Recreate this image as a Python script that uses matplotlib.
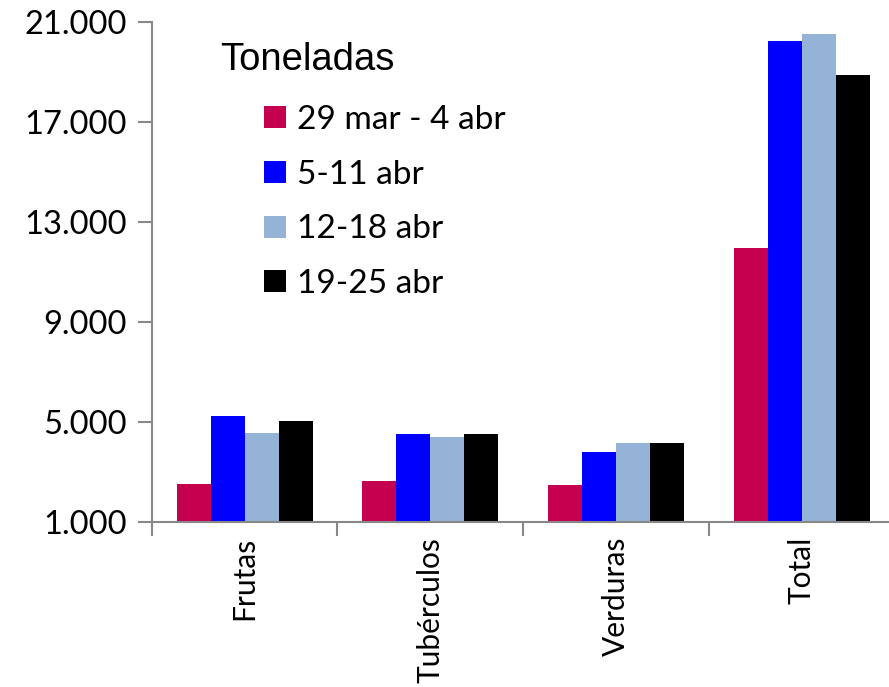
import matplotlib
matplotlib.use("Agg")
import matplotlib.pyplot as plt
import numpy as np
from matplotlib.ticker import FuncFormatter
from matplotlib.patches import Patch

categories = ["Frutas", "Tubérculos", "Verduras", "Total"]
series_names = ["29 mar - 4 abr", "5-11 abr", "12-18 abr", "19-25 abr"]
s1 = [2500, 2630, 2480, 11950]
s2 = [5230, 4510, 3800, 20230]
s3 = [4540, 4380, 4160, 20520]
s4 = [5020, 4510, 4160, 18860]
series = [s1, s2, s3, s4]
colors = ["#C5004E", "#0000FF", "#95B3D7", "#000000"]
yticks = [1000, 5000, 9000, 13000, 17000, 21000]

fig = plt.figure(figsize=(8.89, 6.87), dpi=100)
ax = fig.add_axes([151.7 / 889, (687 - 521.7) / 687, 743 / 889, 500 / 687])

x = np.arange(len(categories))
w = 0.183
for i, (vals, c) in enumerate(zip(series, colors)):
    ax.bar(x + (i - 1.5) * w, np.array(vals) - 1000, width=w, bottom=1000,
           color=c, linewidth=0, label=series_names[i])

ax.set_ylim(1000, 21000)
ax.set_xlim(-0.5, 3.5)
ax.set_yticks(yticks)
ax.yaxis.set_major_formatter(FuncFormatter(lambda v, p: f"{int(v):,}".replace(",", ".")))
ax.set_xticks(x)
ax.set_xticklabels(categories, rotation=90, fontsize=21.5, family="Lato")
ax.set_xticks(np.arange(-0.5, 4, 1), minor=True)
ax.tick_params(axis="x", which="major", length=0, pad=11)
ax.tick_params(axis="x", which="minor", length=10, width=1.5, color="#888888", direction="out")
ax.tick_params(axis="y", length=10, width=1.5, color="#888888", direction="out", labelsize=23.5, pad=8)
for lab in ax.get_yticklabels():
    lab.set_family("Lato")

for sp in ["top", "right"]:
    ax.spines[sp].set_visible(False)
for sp in ["left", "bottom"]:
    ax.spines[sp].set_color("#888888")
    ax.spines[sp].set_linewidth(1.5)

fig.text(220 / 889, 1 - 60 / 687, "Toneladas", fontsize=27.5, family="Liberation Sans",
         va="center", ha="left")

handles = [Patch(facecolor=c, edgecolor="none") for c in colors]
leg = fig.legend(handles, series_names, loc="upper left",
                 bbox_to_anchor=(264 / 889, 1 - 105 / 687), frameon=False,
                 prop={"family": "Lato", "size": 24}, handlelength=0.65, handleheight=0.65,
                 handletextpad=0.35, labelspacing=0.74, borderpad=0, borderaxespad=0)

fig.savefig("out.png", dpi=100)
